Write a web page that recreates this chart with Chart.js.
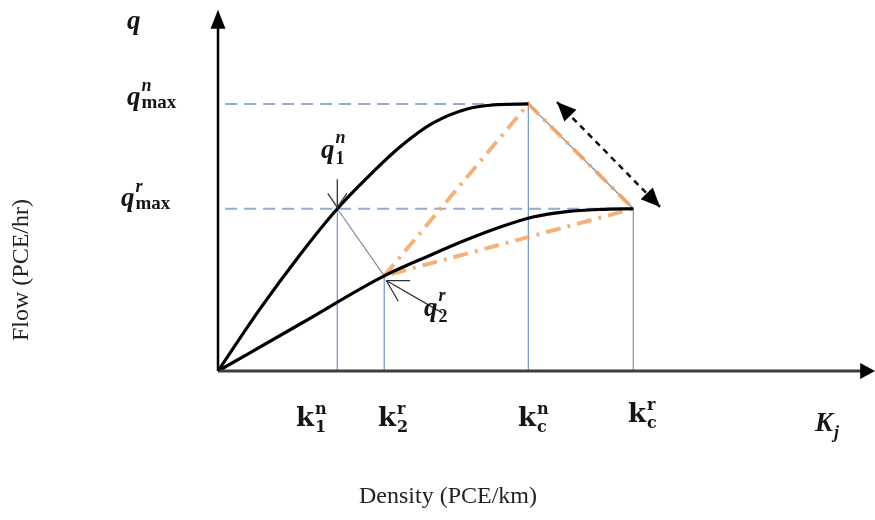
<!DOCTYPE html>
<html><head><meta charset="utf-8">
<script src="https://cdn.jsdelivr.net/npm/chart.js@4/dist/chart.umd.min.js"></script>
<style>html,body{margin:0;padding:0;background:#fff;}#wrap{width:875px;height:520px;}</style>
</head><body><div id="wrap"><canvas id="c" width="875" height="520"></canvas></div>
<script>
// ---- data (density units 0..100, flow units 0..100) ----
const curveNormalK = [0, 6.44, 12.58, 18.3, 22.85, 27.9, 33.0, 38.2, 42.2, 47.6];
const curveNormalQ = [0, 17.3, 32.4, 45.2, 53.8, 62.4, 69.1, 73.0, 74.1, 74.4];
const curveReducedK = [0, 12.8, 25.5, 33.0, 38.2, 43.3, 48.3, 53.5, 58.6, 63.7];
const curveReducedQ = [0, 13.3, 26.5, 32.6, 36.6, 40.1, 42.9, 44.4, 45.0, 45.2];
const keyK = {k1n: 18.3, k2r: 25.5, kcn: 47.6, kcr: 63.7};
const keyQ = {q1n: 45.2, q2r: 26.5, qmaxn: 74.4, qmaxr: 45.2};
const shiftArrowK = [52.0, 67.8];
const shiftArrowQ = [74.9, 45.7];
const q1nArrowK = [18.3, 18.3];
const q1nArrowQ = [53.4, 45.6];
const q2rArrowK = [34.4, 25.8];
const q2rArrowQ = [16.2, 25.2];
const axisEnd = {k: 100.8, q: 100.6};
const xTickLabels = [
  {base: 'k', sup: 'n', sub: '1'},
  {base: 'k', sup: 'r', sub: '2'},
  {base: 'k', sup: 'n', sub: 'c'},
  {base: 'k', sup: 'r', sub: 'c'}
];
const axisTitles = {x: 'Density (PCE/km)', y: 'Flow (PCE/hr)'};

// ---- build ----
const pts = (ks, qs) => ks.map((k, i) => ({x: k, y: qs[i]}));
const line = (data, color, width, dash, order, extra) => Object.assign({
  data, borderColor: color, borderWidth: width, borderDash: dash || [],
  pointRadius: 0, fill: false, clip: false, tension: 0, order
}, extra || {});

const blueV = '#7f9cc6', blueDash = '#93abcc', greyThin = '#7d8a9a', orange = 'rgba(242,165,100,0.85)';
const datasets = [
  line([{x:0,y:0},{x:0,y:axisEnd.q-4}], '#000', 2.5, [], 1),
  line([{x:0,y:0},{x:axisEnd.k-1.8,y:0}], '#3d3d3d', 3, [], 1),
  line(pts(curveNormalK, curveNormalQ), '#000', 3.2, [], 2, {cubicInterpolationMode: 'monotone'}),
  line(pts(curveReducedK, curveReducedQ), '#000', 3.2, [], 2, {cubicInterpolationMode: 'monotone'}),
  line([{x:1.1,y:keyQ.qmaxn},{x:keyK.kcn,y:keyQ.qmaxn}], blueDash, 2, [12,7], 6),
  line([{x:1.1,y:keyQ.qmaxr},{x:keyK.kcr,y:keyQ.qmaxr}], blueDash, 2, [12,7], 6),
  line([{x:keyK.k1n,y:0},{x:keyK.k1n,y:keyQ.q1n}], blueV, 1.3, [], 5),
  line([{x:keyK.k2r,y:0},{x:keyK.k2r,y:keyQ.q2r}], blueV, 1.3, [], 5),
  line([{x:keyK.kcn,y:0},{x:keyK.kcn,y:keyQ.qmaxn}], blueV, 1.3, [], 5),
  line([{x:keyK.kcr,y:0},{x:keyK.kcr,y:keyQ.qmaxr}], blueV, 1.3, [], 5),
  line([{x:keyK.k1n,y:keyQ.q1n},{x:keyK.k2r,y:keyQ.q2r}], greyThin, 1.2, [], 4),
  line([{x:keyK.kcn,y:keyQ.qmaxn},{x:keyK.kcr,y:keyQ.qmaxr}], greyThin, 1.2, [], 4),
  line([{x:keyK.k2r,y:keyQ.q2r},{x:keyK.kcn,y:keyQ.qmaxn},{x:keyK.kcr,y:keyQ.qmaxr},{x:keyK.k2r,y:keyQ.q2r}], orange, 4, [15,7,3,7], 3),
  line(pts(shiftArrowK, shiftArrowQ), '#111', 2.5, [6,5], 1),
  line(pts(q1nArrowK, q1nArrowQ), '#333', 1.3, [], 1),
  line(pts(q2rArrowK, q2rArrowQ), '#333', 1.3, [], 1)
];

function drawMath(ctx, x, y, base, sup, sub, o) {
  ctx.font = o.baseFont; ctx.fillText(base, x, y);
  const w = ctx.measureText(base).width + (o.gap || 1);
  if (sup) { ctx.font = o.supFont; ctx.fillText(sup, x + w + (o.supDx||0), y - o.supUp); }
  if (sub) { ctx.font = o.subFont; ctx.fillText(sub, x + w, y + o.subDown); }
}

const decor = {
  id: 'decor',
  afterDatasetsDraw(chart) {
    const ctx = chart.ctx, xs = chart.scales.x, ys = chart.scales.y;
    const P = (k, q) => [xs.getPixelForValue(k), ys.getPixelForValue(q)];
    ctx.save();
    function head(tip, from, len, half, color) {
      const a = Math.atan2(tip[1]-from[1], tip[0]-from[0]);
      ctx.fillStyle = color; ctx.beginPath();
      ctx.moveTo(tip[0], tip[1]);
      ctx.lineTo(tip[0]-len*Math.cos(a)+half*Math.sin(a), tip[1]-len*Math.sin(a)-half*Math.cos(a));
      ctx.lineTo(tip[0]-len*Math.cos(a)-half*Math.sin(a), tip[1]-len*Math.sin(a)+half*Math.cos(a));
      ctx.closePath(); ctx.fill();
    }
    head(P(0, axisEnd.q), P(0, 0), 19, 7.5, '#000');
    head(P(axisEnd.k, 0), P(0, 0), 15, 8, '#000');
    const s0 = P(shiftArrowK[0], shiftArrowQ[0]), s1 = P(shiftArrowK[1], shiftArrowQ[1]);
    head(s0, s1, 19, 8.5, '#000');
    head(s1, s0, 19, 8.5, '#000');
    function vhead(tip, from, len, ang) {
      const a = Math.atan2(from[1]-tip[1], from[0]-tip[0]);
      ctx.strokeStyle = '#333'; ctx.lineWidth = 1.3; ctx.beginPath();
      [a-ang, a+ang].forEach(b => { ctx.moveTo(tip[0], tip[1]); ctx.lineTo(tip[0]+len*Math.cos(b), tip[1]+len*Math.sin(b)); });
      ctx.stroke();
    }
    vhead(P(q1nArrowK[1], q1nArrowQ[1]), P(q1nArrowK[0], q1nArrowQ[0]), 17, 0.6);
    vhead(P(q2rArrowK[1], q2rArrowQ[1]), P(q2rArrowK[0], q2rArrowQ[0]), 24, 0.52);

    ctx.fillStyle = '#151515'; ctx.textBaseline = 'alphabetic'; ctx.textAlign = 'left';
    const F = '"Liberation Serif", serif', D = '"DejaVu Serif", serif';
    const qOpt = {baseFont: 'bold italic 27px '+F, supFont: 'italic bold 18px '+F, subFont: 'bold 19px '+F, supUp: 14, subDown: 3, gap: 0};
    ctx.font = 'bold italic 27px '+F; ctx.fillText('q', 127, 29);
    drawMath(ctx, 127, 105, 'q', 'n', 'max', qOpt);
    drawMath(ctx, 121, 206, 'q', 'r', 'max', qOpt);
    const smallOpt = {baseFont: 'bold italic 27px '+F, supFont: 'italic bold 18px '+F, subFont: 'bold 18px '+F, supUp: 15, subDown: 6, gap: 1};
    drawMath(ctx, 321, 158, 'q', 'n', '1', smallOpt);
    drawMath(ctx, 424, 316, 'q', 'r', '2', smallOpt);
    const kOpt = {baseFont: 'bold 26px '+D, supFont: 'bold 16px '+D, subFont: 'bold 16px '+D, supUp: 12, subDown: 6, gap: 1};
    const kX = [296, 378, 518, 628], kY = [426, 426, 426, 422];
    xTickLabels.forEach((t, i) => drawMath(ctx, kX[i], kY[i], t.base, t.sup, t.sub, kOpt));
    drawMath(ctx, 815, 431, 'K', null, 'j', {baseFont: 'bold italic 27px '+F, subFont: 'bold italic 18px '+F, subDown: 7, gap: 1});
    ctx.fillStyle = '#222'; ctx.font = '24px '+F; ctx.textAlign = 'center'; ctx.textBaseline = 'middle';
    ctx.fillText(axisTitles.x, 448, 497);
    ctx.translate(22, 270); ctx.rotate(-Math.PI/2); ctx.fillText(axisTitles.y, 0, 0);
    ctx.restore();
  }
};

new Chart(document.getElementById('c'), {
  type: 'line',
  data: {datasets},
  options: {
    responsive: false, animation: false,
    layout: {padding: {left: 218, right: 5, top: 12, bottom: 149}},
    scales: {x: {type: 'linear', min: 0, max: 100, display: false}, y: {type: 'linear', min: 0, max: 100, display: false}},
    plugins: {legend: {display: false}, tooltip: {enabled: false}},
    elements: {point: {radius: 0}}
  },
  plugins: [decor]
});
</script></body></html>
